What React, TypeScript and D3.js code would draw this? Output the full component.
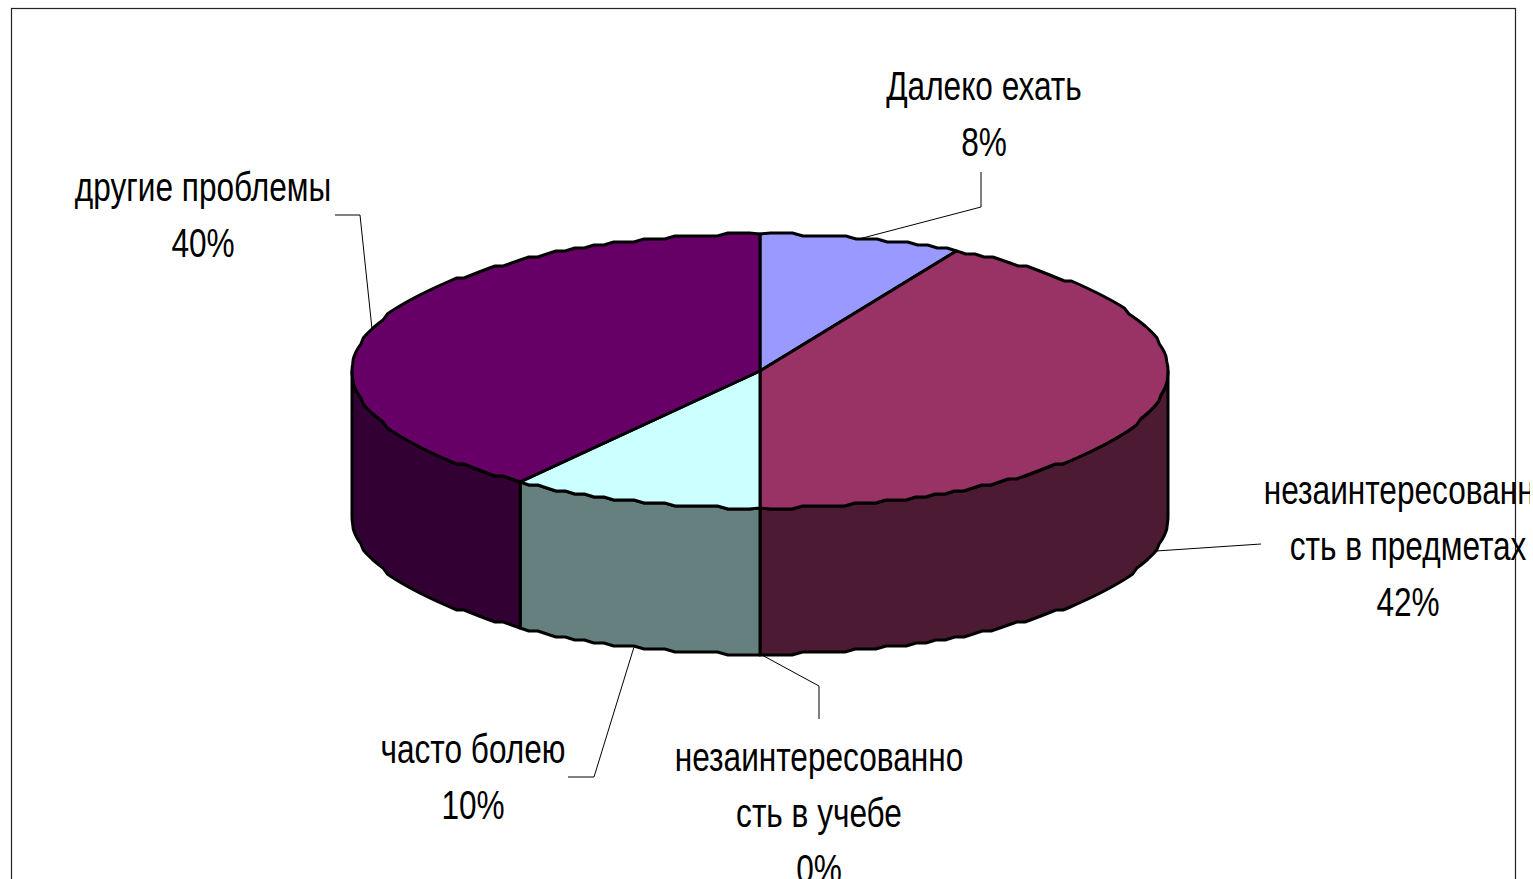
import React from "react";
import * as d3 from "d3";

const categories = [
  "Далеко ехать",
  "незаинтересованность в предметах",
  "незаинтересованность в учебе",
  "часто болею",
  "другие проблемы",
];
const values = [8, 42, 0, 10, 40];
const labelLines = [
  ["Далеко ехать", "8%"],
  ["незаинтересованно", "сть в предметах", "42%"],
  ["незаинтересованно", "сть в учебе", "0%"],
  ["часто болею", "10%"],
  ["другие проблемы", "40%"],
];
const topColors = ["#9999ff", "#993366", "#ffffcc", "#ccffff", "#660066"];
const sideColors = ["#4d4d80", "#4d1a33", "#808066", "#668080", "#330033"];

// label block: centre x, first baseline
const labelPos = [
  { x: 984, y: 100 },
  { x: 1408, y: 504 },
  { x: 819, y: 771 },
  { x: 473, y: 763 },
  { x: 203, y: 201 },
];
// leader elbows after the rim point
const leaderPaths: [number, number][][] = [
  [[981, 207], [981, 172]],
  [[1261, 544]],
  [[819, 686], [819, 719]],
  [[594, 777], [568, 777]],
  [[360, 215], [335, 215]],
];

const width = 1533;
const height = 879;
const cx = 760;
const cy = 371;
const rx = 408;
const ry = 137;
const depth = 146;
const rowHeight = 56;
const squeeze = 0.79;
const grid = 3; // the outline of the original is stair-stepped

const rim = (a: number, dy = 0): [number, number] => [
  cx + rx * Math.sin(a),
  cy + dy - ry * Math.cos(a),
];
const stepped = (a: number, dy = 0): [number, number] => {
  const [x, y] = rim(a, dy);
  return [x, cy + dy + Math.round((y - cy - dy) / grid) * grid];
};
const arcAngles = (a0: number, a1: number) => {
  const n = Math.max(1, Math.round((a1 - a0) / (Math.PI / 120)));
  return d3.range(n + 1).map((i) => a0 + ((a1 - a0) * i) / n);
};

const line = d3.line();

const App: React.FC = () => {
  const arcs = d3.pie<number>().sort(null)(values);

  // side walls only exist on the front half of the cylinder
  const walls = arcs
    .map((d, i) => {
      const a0 = Math.max(d.startAngle, Math.PI / 2);
      const a1 = Math.min(d.endAngle, (3 * Math.PI) / 2);
      if (a1 <= a0) return null;
      const angles = arcAngles(a0, a1);
      const top = angles.map((a) => (a === angles[0] || a === angles[angles.length - 1] ? rim(a) : stepped(a)));
      const bottom = angles.map((a) => stepped(a, depth)).reverse();
      return { i, path: line([...top, ...bottom])! + "Z" };
    })
    .filter((w) => w !== null) as { i: number; path: string }[];

  const tops = arcs
    .filter((d) => d.endAngle > d.startAngle)
    .map((d) => {
      const angles = arcAngles(d.startAngle, d.endAngle);
      const pts = angles.map((a, k) =>
        k === 0 || k === angles.length - 1 ? rim(a) : stepped(a)
      );
      return { i: d.index, path: line([[cx, cy], ...pts])! + "Z" };
    });

  const leaders = arcs.map((d, i) => {
    const mid = (d.startAngle + d.endAngle) / 2;
    const onFront = Math.cos(mid) < 0 && i !== 0;
    const start = rim(mid, onFront ? depth : 0);
    return line([start, ...leaderPaths[i]])!;
  });

  return (
    <svg
      width={width}
      height={height}
      style={{ position: "absolute", left: 0, top: 0, display: "block", background: "#fff" }}
      fontFamily="'Liberation Sans', Arial, sans-serif"
    >
      <defs>
        <clipPath id="page">
          <rect x={0} y={0} width={1530} height={height} />
        </clipPath>
      </defs>
      <rect x={11.5} y={8.5} width={1504} height={height + 20} fill="#fff" stroke="#222" strokeWidth={1.2} />

      {leaders.map((d, i) => (
        <path key={`leader-${i}`} d={d} fill="none" stroke="#000" strokeWidth={1} />
      ))}

      {walls.map((w) => (
        <path key={`wall-${w.i}`} d={w.path} fill={sideColors[w.i]} stroke="#000" strokeWidth={3} strokeLinejoin="round" />
      ))}
      {tops.map((t) => (
        <path key={`top-${t.i}`} d={t.path} fill={topColors[t.i]} stroke="#000" strokeWidth={3} strokeLinejoin="round" />
      ))}

      <g clipPath="url(#page)" fontSize={40} fill="#000" textAnchor="middle">
        {categories.map((name, i) =>
          labelLines[i].map((txt, k) => (
            <text
              key={`${name}-${k}`}
              transform={`translate(${labelPos[i].x},${labelPos[i].y + k * rowHeight}) scale(${squeeze},1)`}
            >
              {txt}
            </text>
          ))
        )}
      </g>
    </svg>
  );
};

export default App;
